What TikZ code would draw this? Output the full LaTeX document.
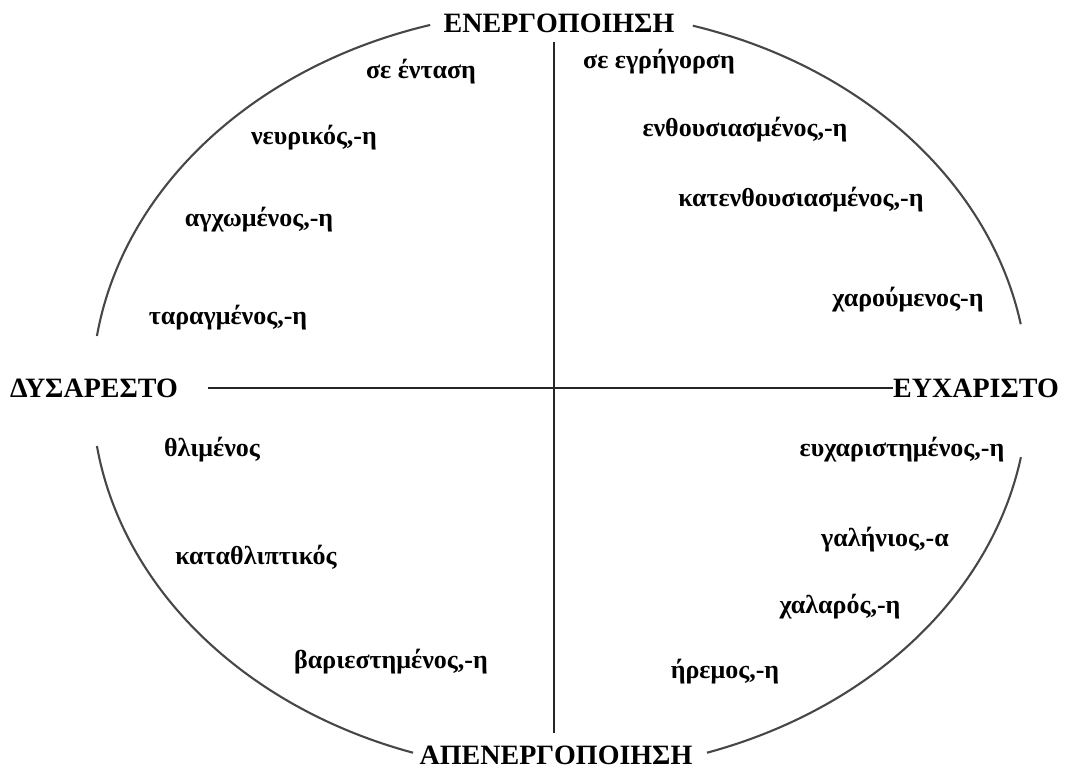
\documentclass[tikz,border=0pt]{standalone}
\usepackage{fontspec}
\setmainfont{Liberation Serif}[BoldFont={Liberation Serif Bold}]
\begin{document}
\begin{tikzpicture}[x=1pt,y=-1pt,
  axisline/.style={draw=black!85,line width=2.6pt},
  rim/.style={draw=black!72,line width=2.1pt},
  pole/.style={font=\bfseries\fontsize{28}{30}\selectfont,inner sep=0pt},
  mood/.style={font=\bfseries\fontsize{26}{28}\selectfont,inner sep=0pt}]
\useasboundingbox (0,0) rectangle (1065,769);
% outline of the circumplex, broken where the pole labels sit
\def\cx{560}\def\cy{391}\def\rx{468}\def\ry{381}
\foreach \a/\b in {286.5/349.9, 10/71.7, 108.3/171.7, 188.3/253.9}
  \draw[rim] ({\cx+\rx*cos(\a)},{\cy+\ry*sin(\a)}) arc[start angle=\a,end angle=\b,x radius=\rx,y radius=\ry];
% pole labels
\node[pole] (top) at (559,23) {ΕΝΕΡΓΟΠΟΙΗΣΗ};
\node[pole] (bottom) at (556,755) {ΑΠΕΝΕΡΓΟΠΟΙΗΣΗ};
\node[pole,anchor=west] (left) at (10,388) {ΔΥΣΑΡΕΣΤΟ};
\node[pole,anchor=west] (right) at (893,388) {ΕΥΧΑΡΙΣΤΟ};
% axes
\coordinate (vtop) at (554,42);
\coordinate (vbot) at (554,733);
\coordinate (hleft) at (208,388);
\coordinate (hright) at (893,388);
\draw[axisline] (vtop) -- (vbot);
\draw[axisline] (hleft) -- (hright);
% mood words
\node[mood] (m1) at (421,72) {σε ένταση};
\node[mood] (m2) at (659,62) {σε εγρήγορση};
\node[mood] (m3) at (314,138) {νευρικός,-η};
\node[mood] (m4) at (745,130) {ενθουσιασμένος,-η};
\node[mood] (m5) at (259,220) {αγχωμένος,-η};
\node[mood] (m6) at (801,200) {κατενθουσιασμένος,-η};
\node[mood] (m7) at (908,300) {χαρούμενος-η};
\node[mood] (m8) at (228,318) {ταραγμένος,-η};
\node[mood] (m9) at (212,450) {θλιμένος};
\node[mood] (m10) at (902,450) {ευχαριστημένος,-η};
\node[mood] (m11) at (885,540) {γαλήνιος,-α};
\node[mood] (m12) at (256,557) {καταθλιπτικός};
\node[mood] (m13) at (840,607) {χαλαρός,-η};
\node[mood] (m14) at (391,662) {βαριεστημένος,-η};
\node[mood] (m15) at (725,672) {ήρεμος,-η};
\end{tikzpicture}
\end{document}
